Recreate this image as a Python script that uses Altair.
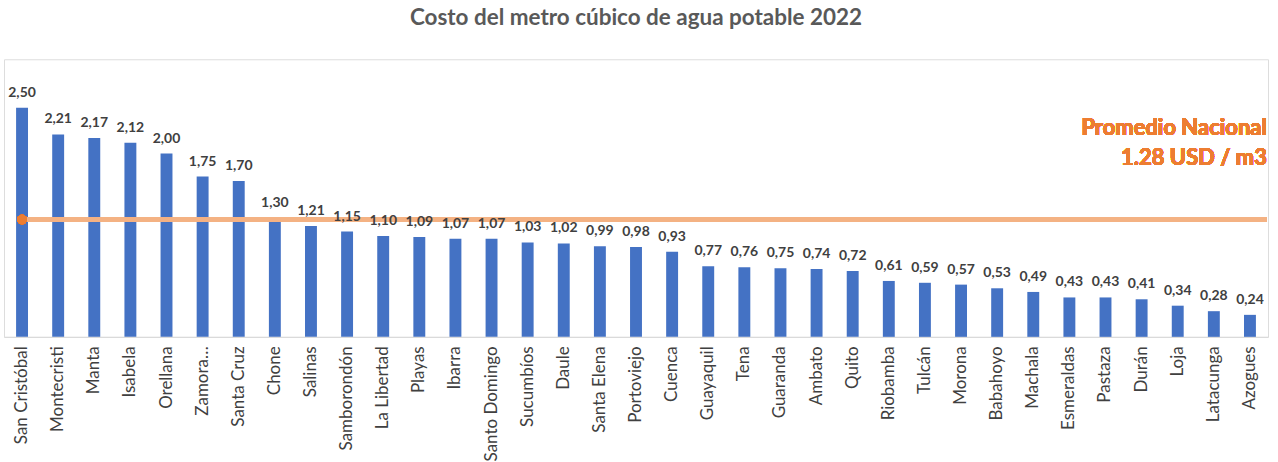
import altair as alt
import pandas as pd

cities = ["San Cristóbal", "Montecristi", "Manta", "Isabela", "Orellana", "Zamora Chinchipe",
          "Santa Cruz", "Chone", "Salinas", "Samborondón", "La Libertad", "Playas", "Ibarra",
          "Santo Domingo", "Sucumbíos", "Daule", "Santa Elena", "Portoviejo", "Cuenca",
          "Guayaquil", "Tena", "Guaranda", "Ambato", "Quito", "Riobamba", "Tulcán", "Morona",
          "Babahoyo", "Machala", "Esmeraldas", "Pastaza", "Durán", "Loja", "Latacunga", "Azogues"]
values = [2.50, 2.21, 2.17, 2.12, 2.00, 1.75, 1.70, 1.30, 1.21, 1.15, 1.10, 1.09, 1.07,
          1.07, 1.03, 1.02, 0.99, 0.98, 0.93, 0.77, 0.76, 0.75, 0.74, 0.72, 0.61, 0.59, 0.57,
          0.53, 0.49, 0.43, 0.43, 0.41, 0.34, 0.28, 0.24]
average = 1.28
avg_text = ["Promedio Nacional", "1.28 USD / m3"]

df = pd.DataFrame({"city": cities, "value": values})

FONT = "Lato"
ydom = [0, 3.03]

xenc = alt.X("city:N", sort=cities, title=None,
             scale=alt.Scale(paddingInner=0.67, paddingOuter=0.335),
             axis=alt.Axis(labelAngle=270, labelFontSize=17, labelColor="#404040",
                           labelFont=FONT, ticks=False, labelPadding=9,
                           domainColor="#D9D9D9", domainWidth=1, labelLimit=200,
                           labelExpr="datum.label == 'Zamora Chinchipe' ? 'Zamora…' : datum.label"))
yscale = alt.Scale(domain=ydom, nice=False)

bars = alt.Chart(df).mark_bar(color="#4472C4").encode(
    x=xenc,
    y=alt.Y("value:Q", scale=yscale, axis=None),
)

labels = alt.Chart(df).transform_calculate(
    lbl="replace(format(datum.value, '.2f'), '.', ',')"
).mark_text(baseline="bottom", dy=-8, fontSize=14, fontWeight="bold",
            color="#404040", font=FONT).encode(
    x=alt.X("city:N", sort=cities),
    y=alt.Y("value:Q", scale=yscale),
    text="lbl:N",
)

rule = alt.Chart(df).mark_rule(color="#F4B183", strokeWidth=5, opacity=0.9, x2Offset=11).encode(
    x=alt.X(datum=cities[0], type="nominal", bandPosition=0.5),
    x2=alt.X2(datum=cities[-1], bandPosition=1),
    y=alt.Y(datum=average, type="quantitative", scale=yscale),
)

dot = alt.Chart(df).mark_circle(color="#ED7D31", opacity=1, size=90).encode(
    x=alt.X(datum=cities[0], type="nominal"),
    y=alt.Y(datum=average, type="quantitative", scale=yscale),
)

note = alt.Chart(df).mark_text(align="right", baseline="middle", fontSize=22,
                               fontWeight="bold", color="#ED7D31", font=FONT,
                               lineHeight=30, dx=11).encode(
    x=alt.X(datum=cities[-1], type="nominal", bandPosition=1),
    y=alt.Y(datum=2.28, type="quantitative", scale=yscale),
    text=alt.value(avg_text),
)

chart = alt.layer(bars, rule, dot, labels, note).properties(
    width=1266, height=278,
    title=alt.TitleParams("Costo del metro cúbico de agua potable 2022", fontSize=22.5,
                          font=FONT, fontWeight="bold", color="#595959", offset=30),
    padding={"left": 4, "top": 6, "right": 8, "bottom": 0},
).configure_view(stroke=None).configure(background="white")

chart.save("out.html", embed_options={"renderer": "svg", "actions": False})
